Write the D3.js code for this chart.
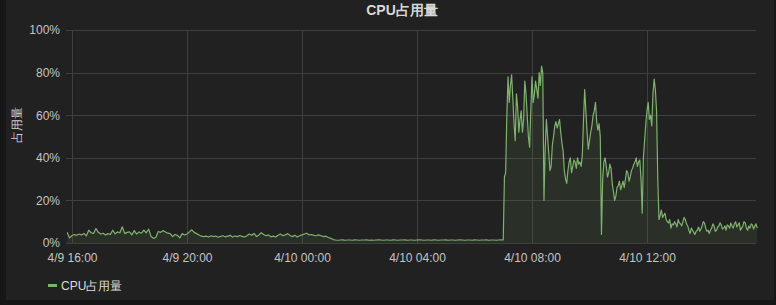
<!DOCTYPE html>
<html>
<head>
<meta charset="utf-8">
<script src="https://cdn.jsdelivr.net/npm/d3@7/dist/d3.min.js"></script>
<style>
  html, body { margin: 0; padding: 0; background: #161616; }
  svg { display: block; }
  text { font-family: "Liberation Sans", Arial, sans-serif; }
</style>
</head>
<body>
<svg id="chart" width="776" height="305"></svg>
<script>
// ---- data ----
const chartTitle = "CPU占用量";
const yAxisTitle = "占用量";
const seriesName = "CPU占用量";

// 4/9 15:50 – 4/10 07:00, every 5 minutes
const quietStart = "2019-04-09T15:50:00";
const quietStep = 5;
const quietValues = [
  5.0, 2.4, 3.5, 4.0, 3.6, 4.2, 3.8, 4.5, 3.4, 6.0,
  4.8, 4.5, 6.8, 5.0, 4.2, 4.6, 3.8, 4.4, 4.0, 6.0,
  4.3, 5.2, 4.8, 7.6, 4.4, 5.0, 5.2, 3.8, 5.8, 4.2,
  5.2, 4.6, 6.0, 4.8, 6.5, 3.0, 2.2, 2.6, 5.4, 5.0,
  5.8, 5.2, 4.6, 4.4, 3.0, 4.0, 3.6, 2.4, 4.4, 3.8,
  4.2, 5.2, 6.2, 5.0, 4.4, 3.8, 3.2, 3.0,
  3.2, 2.8, 3.4, 3.0, 3.3, 2.7, 3.1, 3.4, 2.9, 3.2,
  3.6, 2.8, 3.3, 3.0, 3.5, 3.1, 2.8, 3.4, 4.2, 3.6,
  4.5, 3.0, 3.8, 4.8, 4.0, 3.4, 3.8, 2.9, 3.2, 2.8,
  3.6, 4.2, 3.4, 3.8, 4.4, 3.5, 3.0, 3.6, 2.8, 3.4,
  3.8, 4.2, 4.6, 3.8, 4.0, 3.6, 3.4, 3.8, 3.4, 3.0,
  3.2, 2.6, 2.2, 1.6,
  1.4, 1.3, 1.4, 1.5, 1.3, 1.4, 1.4, 1.3, 1.5, 1.4,
  1.3, 1.4, 1.4, 1.5, 1.3, 1.4, 1.3, 1.4, 1.5, 1.4,
  1.3, 1.4, 1.4, 1.3, 1.5, 1.4, 1.3, 1.4, 1.4, 1.5,
  1.3, 1.4, 1.4, 1.3, 1.4, 1.5, 1.4, 1.3, 1.4, 1.4,
  1.3, 1.5, 1.4, 1.3, 1.4, 1.4, 1.5, 1.3, 1.4, 1.4,
  1.3, 1.4, 1.5, 1.4, 1.3, 1.4, 1.4, 1.3, 1.5, 1.4,
  1.3, 1.4, 1.4, 1.5, 1.3, 1.4, 1.4, 1.3, 1.4, 1.5,
  1.4
];

// 4/10 07:02:30 – 12:25, every 2.5 minutes
const busyStart = "2019-04-10T07:02:30";
const busyStep = 2.5;
const busyValues = [
  31,
  33, 60, 78, 66, 74, 79, 68, 56, 48, 70,
  64, 52, 58, 62, 52, 58, 76, 70, 60, 50,
  45, 62, 78, 66, 70, 76, 72, 68, 80, 74,
  83, 80, 20, 44, 58, 50, 42, 34, 36, 46,
  50, 55, 57, 54, 56, 58, 52, 47, 43, 34,
  30, 28, 34, 38, 40, 33, 36, 39, 38, 35,
  40, 37, 38, 36, 41, 58, 72, 62, 52, 44,
  48, 52, 55, 60, 62, 66, 57, 53, 56, 50,
  4, 30, 38, 40, 36, 31, 33, 37, 35, 28,
  24, 20, 22, 26, 27, 29, 25, 27, 29, 26,
  30, 34, 33, 29, 31, 34, 35, 37, 38, 40,
  36, 38, 39, 30, 14, 40, 48, 56, 62, 66,
  58, 60, 55, 70, 77, 72, 62, 30, 11
];

// 4/10 12:27:30 – 15:50, every 2.5 minutes
const afternoonStart = "2019-04-10T12:27:30";
const afternoonStep = 2.5;
const afternoonValues = [
  13,
  15.5, 12, 13, 14, 11, 10, 9.4, 11, 7, 9,
  8.5, 10, 9, 7.5, 11, 9.5, 9, 8, 10, 12,
  11, 9, 8, 6, 4.5, 7, 6, 5, 4, 5.5,
  6, 7.5, 5.5, 6.5, 8, 10, 9.4, 7, 5.5, 6,
  4.5, 6, 7, 9, 8, 5.5, 6, 7.5, 8, 9.5,
  8.5, 6.5, 7, 8, 6, 8.5, 8, 7, 9.4, 8,
  7, 9, 10, 7.5, 8.5, 9.5, 6, 7, 8, 10,
  9.4, 7, 6, 8, 7, 9, 8.5, 6.5, 8, 9,
  7
];

const xTickTimes = ["2019-04-09T16:00:00", "2019-04-09T20:00:00", "2019-04-10T00:00:00",
                    "2019-04-10T04:00:00", "2019-04-10T08:00:00", "2019-04-10T12:00:00"];
const yTickValues = [0, 20, 40, 60, 80, 100];

// ---- build ----
function toPoints(start, stepMin, values) {
  const t0 = new Date(start).getTime();
  return values.map((v, i) => ({ t: new Date(t0 + i * stepMin * 60000), v }));
}
const series = [].concat(
  toPoints(quietStart, quietStep, quietValues),
  toPoints(busyStart, busyStep, busyValues),
  toPoints(afternoonStart, afternoonStep, afternoonValues)
);
const xTicks = xTickTimes.map(s => new Date(s));

const svg = d3.select("#chart");
const W = 776, H = 305;
const plot = { left: 66, right: 757, top: 30, bottom: 243 };

svg.append("rect").attr("x", 0).attr("y", 0).attr("width", W).attr("height", H).attr("fill", "#161616");
svg.append("rect").attr("x", 6).attr("y", 0).attr("width", 768).attr("height", 300).attr("fill", "#212121");

const x = d3.scaleTime()
  .domain([series[0].t, series[series.length - 1].t])
  .range([67.2, 757.2]);
const y = d3.scaleLinear().domain([0, 100]).range([plot.bottom, plot.top]);

// grid
const grid = svg.append("g");
grid.selectAll("line.h").data(yTickValues).join("line")
  .attr("x1", plot.left).attr("x2", plot.right - 1)
  .attr("y1", d => Math.round(y(d)) + 0.5).attr("y2", d => Math.round(y(d)) + 0.5)
  .attr("stroke", "#3e3e3e").attr("stroke-width", 1);
grid.selectAll("line.v").data(xTicks).join("line")
  .attr("x1", d => Math.round(x(d)) + 0.5).attr("x2", d => Math.round(x(d)) + 0.5)
  .attr("y1", plot.top).attr("y2", plot.bottom)
  .attr("stroke", "#3e3e3e").attr("stroke-width", 1);

// area + line
const area = d3.area().x(d => x(d.t)).y0(y(0)).y1(d => y(d.v));
const line = d3.line().x(d => x(d.t)).y(d => y(d.v));
svg.append("path").datum(series).attr("d", area).attr("fill", "#7EB26D").attr("fill-opacity", 0.1);
svg.append("path").datum(series).attr("d", line).attr("fill", "none")
  .attr("stroke", "#7EB26D").attr("stroke-width", 1.2).attr("stroke-linejoin", "round");

// axes
const fmt = d => `${d.getMonth() + 1}/${d.getDate()} ${d3.timeFormat("%H:%M")(d)}`;
const xAxis = svg.append("g").attr("transform", `translate(0,${plot.bottom})`)
  .call(d3.axisBottom(x).tickValues(xTicks).tickFormat(fmt).tickSize(0).tickPadding(10));
const yAxis = svg.append("g").attr("transform", `translate(${plot.left},0)`)
  .call(d3.axisLeft(y).tickValues(yTickValues).tickFormat(d => d + "%").tickSize(0).tickPadding(6));
[xAxis, yAxis].forEach(a => {
  a.select(".domain").remove();
  a.selectAll("text").attr("fill", "#c4c4c4").attr("font-size", 12)
    .attr("font-family", "'Liberation Sans', Arial, sans-serif");
});

// title
svg.append("text").attr("x", 402).attr("y", 15).attr("text-anchor", "middle")
  .attr("fill", "#d8d8d8").attr("font-size", 14).attr("font-weight", "bold")
  .attr("font-family", "'Liberation Sans', 'Noto Sans CJK SC', sans-serif")
  .text(chartTitle);

// y axis title
svg.append("text").attr("transform", "translate(21,125) rotate(-90)").attr("text-anchor", "middle")
  .attr("fill", "#d0d0d0").attr("font-size", 12)
  .attr("font-family", "'Noto Sans CJK SC', sans-serif")
  .text(yAxisTitle);

// legend
const lg = svg.append("g").attr("transform", "translate(48,285)");
lg.append("line").attr("x1", 0).attr("x2", 9).attr("y1", 0.5).attr("y2", 0.5)
  .attr("stroke", "#7EB26D").attr("stroke-width", 3);
lg.append("text").attr("x", 13).attr("y", 4.5).attr("fill", "#dcdcdc").attr("font-size", 12)
  .attr("font-family", "'Liberation Sans', 'Noto Sans CJK SC', sans-serif")
  .text(seriesName);
</script>
</body>
</html>
